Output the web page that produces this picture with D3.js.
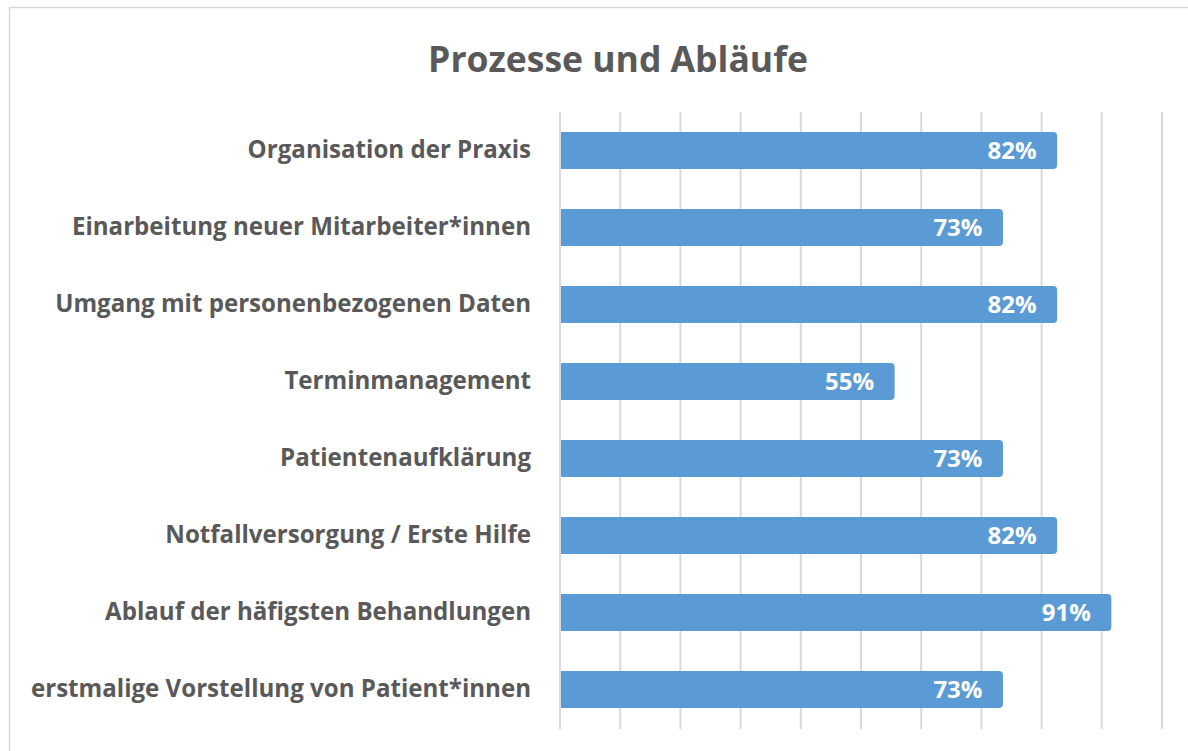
<!DOCTYPE html>
<html>
<head>
<meta charset="utf-8">
<script src="https://cdn.jsdelivr.net/npm/d3@7"></script>
<style>
  body { margin: 0; background: #fff; overflow: hidden; }
  svg { display: block; }
  text { font-family: "Open Sans", sans-serif; font-weight: bold; }
</style>
</head>
<body>
<div class="Canvas"></div>
<script>
let categories = [
    'Organisation der Praxis',
    'Einarbeitung neuer Mitarbeiter*innen',
    'Umgang mit personenbezogenen Daten',
    'Terminmanagement',
    'Patientenaufklärung',
    'Notfallversorgung / Erste Hilfe',
    'Ablauf der häfigsten Behandlungen',
    'erstmalige Vorstellung von Patient*innen',
];
let values = [82, 73, 82, 55, 73, 82, 91, 73];
let ticks = [0, 10, 20, 30, 40, 50, 60, 70, 80, 90, 100];

let width = 1188;
let height = 751;
let barColor = '#5b9bd5';
let textColor = '#595959';
let gridColor = '#d9d9d9';

let svg = d3.select('.Canvas').append('svg').attr('width', width).attr('height', height);

// outer chart frame (right and bottom edges fall outside the picture)
svg.append('rect')
    .attr('x', 9.5).attr('y', 7.5)
    .attr('width', 1200).attr('height', 760)
    .attr('fill', 'none')
    .attr('stroke', gridColor)
    .attr('stroke-width', 1.5);

svg.append('text')
    .attr('x', 618)
    .attr('y', 72)
    .attr('text-anchor', 'middle')
    .attr('font-size', '35.5px')
    .attr('fill', textColor)
    .text('Prozesse und Abläufe');

let x = d3.scaleLinear().domain([0, 100]).range([560, 1162]);
let y = d3.scaleBand().domain(categories).range([112, 728]).paddingInner(0.52).paddingOuter(0.26);

let g = svg.append('g');

g.selectAll('line.grid')
    .data(ticks)
    .enter()
    .append('line')
    .attr('class', 'grid')
    .attr('x1', (d) => x(d))
    .attr('x2', (d) => x(d))
    .attr('y1', 112)
    .attr('y2', 729)
    .attr('stroke', gridColor)
    .attr('stroke-width', 2);

let rows = g.selectAll('g.row')
    .data(categories.map((c, i) => ({ name: c, value: values[i] })))
    .enter()
    .append('g')
    .attr('class', 'row');

// rounded right end, square left end
rows.append('rect')
    .attr('x', x(0) + 1)
    .attr('y', (d) => y(d.name))
    .attr('width', (d) => x(d.value) - x(0) + 2.5)
    .attr('height', y.bandwidth())
    .attr('rx', 4)
    .attr('fill', barColor);
rows.append('rect')
    .attr('x', x(0) + 1)
    .attr('y', (d) => y(d.name))
    .attr('width', 20)
    .attr('height', y.bandwidth())
    .attr('fill', barColor);

rows.append('text')
    .attr('x', (d) => x(d.value) - 17)
    .attr('y', (d) => y(d.name) + y.bandwidth() / 2)
    .attr('dy', '0.35em')
    .attr('text-anchor', 'end')
    .attr('font-size', '24px')
    .attr('fill', '#fff')
    .text((d) => d.value + '%');

rows.append('text')
    .attr('x', 531)
    .attr('y', (d) => y(d.name) + y.bandwidth() / 2)
    .attr('dy', '0.3em')
    .attr('text-anchor', 'end')
    .attr('font-size', '24.1px')
    .attr('fill', textColor)
    .text((d) => d.name);
</script>
</body>
</html>
